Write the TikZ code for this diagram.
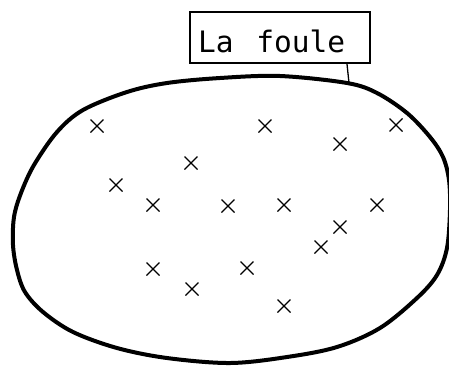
\documentclass[tikz,border=0pt]{standalone}
\usepackage{fontspec}
\setmonofont{DejaVu Sans Mono}
\begin{document}
\begin{tikzpicture}[x=1pt,y=-1pt,
  labelbox/.style={draw,line width=2.2pt,minimum width=180pt,minimum height=51pt,inner ysep=0pt,inner xsep=8pt,
    text width=164pt,align=left,text height=32pt,text depth=3pt,font=\ttfamily\fontsize{29.5}{29.5}\selectfont},
  crowd/.style={line width=4pt,line join=round},
  xmark/.style={line width=1.1pt}]
\useasboundingbox (0,0) rectangle (449,365);
\node[labelbox] (label) at (280,37.5) {La\hspace{13pt} foule};
\draw[crowd] plot[smooth cycle,tension=0.55] coordinates {
  (280,76) (347,83) (377,93) (407,113) (430,137) (443,157) (449,180) (450,210)
  (447,248) (437,275) (417,298) (380,328) (337,347) (287,357) (230,363)
  (167,358) (117,348) (73,332) (43,312) (25,292) (17,270) (13,245) (14,217)
  (21,193) (34,165) (57,132) (83,110) (127,92) (167,83) (220,78)};
\coordinate (touch) at (349,83);
\draw[line width=1.3pt] (label.south -| 347,0) -- (touch);
\foreach \x/\y in {97/126,265/126,396/125,340/144,191/163,116/185,153/205,228/206,
  284/205,377/205,340/227,321/247,153/269,247/268,192/289,284/306}{
  \draw[xmark] (\x-6.5,\y-6.5) -- (\x+6.5,\y+6.5) (\x-6.5,\y+6.5) -- (\x+6.5,\y-6.5);
}
\end{tikzpicture}
\end{document}
